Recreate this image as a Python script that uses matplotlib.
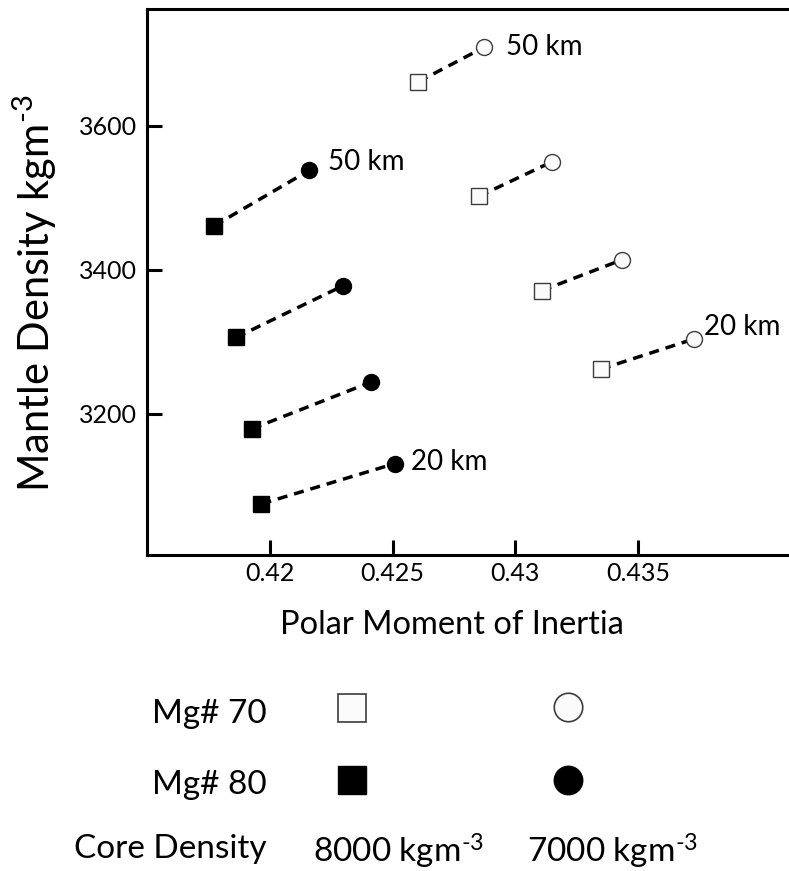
"""
Polar moment of inertia vs mantle density for two mantle Mg# and two core densities
"""
import matplotlib
matplotlib.use('Agg')
import matplotlib.pyplot as plt

plt.rcParams['font.family'] = ['Lato', 'DejaVu Sans']
plt.rcParams['mathtext.fontset'] = 'custom'
plt.rcParams['mathtext.rm'] = 'Lato'

# crust thickness runs 50 km (top of each series) down to 20 km
crust_km = [50, 40, 30, 20]

# Mg# 80 mantle
moi_mg80_core8000 = [0.41772, 0.41861, 0.41925, 0.41965]
rho_mg80_core8000 = [3461, 3306, 3179, 3075]
moi_mg80_core7000 = [0.42160, 0.42299, 0.42411, 0.42510]
rho_mg80_core7000 = [3538, 3378, 3244, 3131]

# Mg# 70 mantle
moi_mg70_core8000 = [0.42605, 0.42852, 0.43108, 0.43349]
rho_mg70_core8000 = [3661, 3502, 3371, 3262]
moi_mg70_core7000 = [0.42874, 0.43151, 0.43437, 0.43730]
rho_mg70_core7000 = [3709, 3550, 3414, 3304]

x_ticks = [0.42, 0.425, 0.43, 0.435]
x_tick_labels = ['0.42', '0.425', '0.43', '0.435']
y_ticks = [3200, 3400, 3600]

unit = r'kgm$\mathregular{^{‐3}}$'

fig = plt.figure(figsize=(7.89, 8.71), dpi=100)
ax = fig.add_axes([147 / 789, 1 - 555 / 871, 1 - 147 / 789, (555 - 9) / 871])

open_face = '#fbfbfb'
open_edge = '#3c3c3c'
dash = (0, (2.9, 2.0))

# dashed tie lines between the two core densities
for xs, ys, xc, yc in [(moi_mg80_core8000, rho_mg80_core8000, moi_mg80_core7000, rho_mg80_core7000),
                       (moi_mg70_core8000, rho_mg70_core8000, moi_mg70_core7000, rho_mg70_core7000)]:
    for i in range(len(crust_km)):
        ax.plot([xs[i], xc[i]], [ys[i], yc[i]], color='black', lw=2.5,
                linestyle=dash, zorder=1)

ax.plot(moi_mg80_core8000, rho_mg80_core8000, 's', ms=11, color='black', zorder=3)
ax.plot(moi_mg80_core7000, rho_mg80_core7000, 'o', ms=11.5, color='black', zorder=3)
ax.plot(moi_mg70_core8000, rho_mg70_core8000, 's', ms=11, mfc=open_face,
        mec=open_edge, mew=1.0, zorder=3)
ax.plot(moi_mg70_core7000, rho_mg70_core7000, 'o', ms=11.5, mfc=open_face,
        mec=open_edge, mew=1.0, zorder=3)

# crust thickness labels at the ends of the runs
label_style = dict(textcoords='offset pixels', fontsize=20, va='center', ha='left')
ax.annotate(f'{crust_km[0]} km', (moi_mg80_core7000[0], rho_mg80_core7000[0]),
            xytext=(19, 8), **label_style)
ax.annotate(f'{crust_km[0]} km', (moi_mg70_core7000[0], rho_mg70_core7000[0]),
            xytext=(22, 0), **label_style)
ax.annotate(f'{crust_km[-1]} km', (moi_mg80_core7000[-1], rho_mg80_core7000[-1]),
            xytext=(16, 2), **label_style)
ax.annotate(f'{crust_km[-1]} km', (moi_mg70_core7000[-1], rho_mg70_core7000[-1]),
            xytext=(10, 12), **label_style)

ax.set_xlim(0.41498, 0.44117)
ax.set_ylim(3004, 3762)
ax.set_xticks(x_ticks)
ax.set_xticklabels(x_tick_labels)
ax.set_yticks(y_ticks)
ax.tick_params(direction='in', length=11, width=2.2, labelsize=18, pad=7)
ax.tick_params(axis='x', pad=5)

for side in ['left', 'top', 'bottom']:
    ax.spines[side].set_linewidth(2.2)
ax.spines['right'].set_visible(False)

ax.set_xlabel('Polar Moment of Inertia', fontsize=23.5)
ax.xaxis.set_label_coords((452 - 147) / 642, -(625 - 555) / 546)
ax.xaxis.label.set_va('center')
ax.set_ylabel('Mantle Density ' + unit, fontsize=30)
ax.yaxis.set_label_coords(-(147 - 35) / 642, (555 - 293) / 546)
ax.yaxis.label.set_va('center')

# key below the plot, laid out in pixel units of the figure
key = fig.add_axes([0, 0, 1, 211 / 871])
key.set_xlim(0, 789)
key.set_ylim(871, 660)
key.axis('off')

key.text(267, 723, 'Mg# 70', fontsize=24, ha='right', va='baseline')
key.text(267, 794, 'Mg# 80', fontsize=24, ha='right', va='baseline')
key.text(267, 858, 'Core Density', fontsize=24, ha='right', va='baseline')
key.text(313, 863, '8000 ' + unit, fontsize=24, ha='left', va='baseline')
key.text(527, 863, '7000 ' + unit, fontsize=24, ha='left', va='baseline')

key.plot([352.5], [708], 's', ms=20, mfc=open_face, mec=open_edge, mew=1.2)
key.plot([568], [707], 'o', ms=20.5, mfc=open_face, mec=open_edge, mew=1.2)
key.plot([352.5], [780], 's', ms=20, color='black')
key.plot([568], [780], 'o', ms=20.5, color='black')

fig.savefig('out.png', dpi=100)
